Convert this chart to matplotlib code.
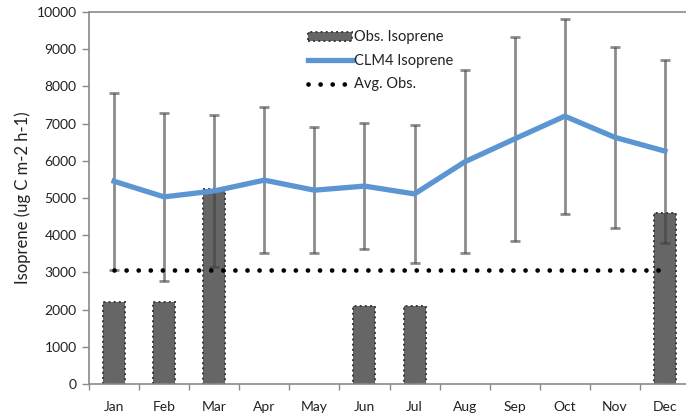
import matplotlib
matplotlib.use("Agg")
import matplotlib.pyplot as plt
import numpy as np

plt.rcParams['font.family'] = ['Lato', 'DejaVu Sans']

months = ["Jan", "Feb", "Mar", "Apr", "May", "Jun", "Jul", "Aug", "Sep", "Oct", "Nov", "Dec"]
obs_isoprene = [2200, 2200, 5250, np.nan, np.nan, 2100, 2100, np.nan, np.nan, np.nan, np.nan, 4600]
clm4_isoprene = [5450, 5030, 5190, 5480, 5210, 5320, 5110, 5970, 6590, 7200, 6630, 6260]
clm4_err = [2380, 2250, 2040, 1960, 1700, 1700, 1860, 2460, 2740, 2620, 2430, 2460]
avg_obs = [3075] * 12

x = np.arange(len(months))
obs = np.array(obs_isoprene, dtype=float)
has_obs = ~np.isnan(obs)

fig = plt.figure(figsize=(6.86, 4.16), dpi=100)
ax = fig.add_axes([89 / 686, 32 / 416, 601 / 686, 372 / 416])

ax.bar(x[has_obs], obs[has_obs], width=0.44, color="#666666",
       edgecolor="#3a3a3a", linewidth=1.4, linestyle=":", zorder=2,
       label="Obs. Isoprene")

ax.errorbar(x, clm4_isoprene, yerr=clm4_err, fmt="none", ecolor="#404040",
            alpha=0.6, elinewidth=2.0, capsize=3.4, capthick=2.0, zorder=3)

ax.plot(x, clm4_isoprene, color="#5b96d2", linewidth=3.8, solid_joinstyle="round",
        zorder=4, label="CLM4 Isoprene")

ax.plot(x, avg_obs, color="black", linewidth=3.4, linestyle=(0, (0.01, 2.55)),
        dash_capstyle="round", zorder=5, label="Avg. Obs.")

ax.set_xlim(-0.5, 11.5)
ax.set_ylim(0, 10000)
ax.set_yticks(np.arange(0, 10001, 1000))
ax.set_xticks(x)
ax.set_xticklabels(months)
ax.set_xticks(np.arange(-0.5, 12, 1), minor=True)

for side in ["left", "top", "bottom"]:
    ax.spines[side].set_color("#8a8a8a")
    ax.spines[side].set_linewidth(1.2)
ax.spines["right"].set_visible(False)

ax.tick_params(axis="x", which="major", length=0, labelsize=10, pad=12, labelcolor="#222222")
ax.tick_params(axis="x", which="minor", length=4, color="#8a8a8a", width=1)
ax.tick_params(axis="y", length=5, color="#8a8a8a", width=1, labelsize=10, pad=4,
               labelcolor="#222222")

ax.set_ylabel("Isoprene (ug C m-2 h-1)", fontsize=12, color="#222222", labelpad=4)

handles, labels = ax.get_legend_handles_labels()
order = [labels.index(n) for n in ["Obs. Isoprene", "CLM4 Isoprene", "Avg. Obs."]]
leg = ax.legend([handles[i] for i in order], [labels[i] for i in order],
                loc="upper left", bbox_to_anchor=(0.355, 0.966), frameon=False,
                fontsize=10.5, handlelength=3.0, handleheight=0.6, handletextpad=0.15,
                labelspacing=0.65, borderaxespad=0)
for t in leg.get_texts():
    t.set_color("#222222")

fig.savefig("out.png", dpi=100)
